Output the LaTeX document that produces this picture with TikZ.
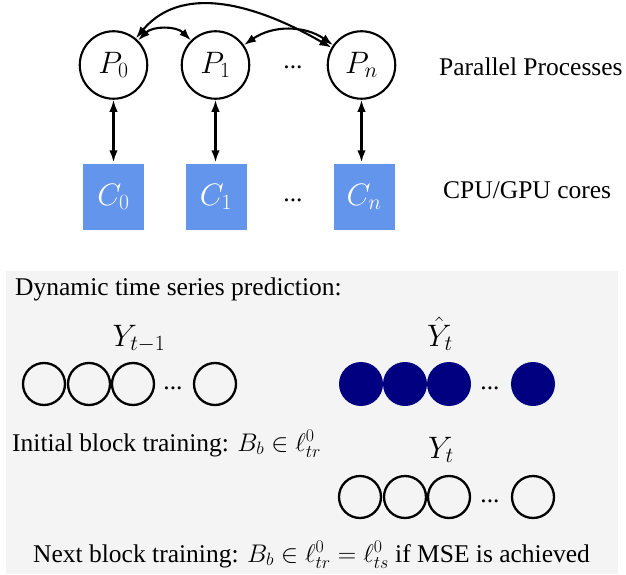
\RequirePackage{fix-cm}
\documentclass[tikz,border=0pt]{standalone}
\usepackage{fontspec}
\setmainfont{Liberation Serif}
\usetikzlibrary{arrows.meta}
\definecolor{cblue}{RGB}{100,149,237}
\definecolor{bggray}{RGB}{244,244,244}
\definecolor{navyc}{RGB}{0,0,128}
\begin{document}
\begin{tikzpicture}[x=1pt,y=1pt,
  font=\fontsize{25.5}{30}\selectfont,
  proc/.style={circle, draw, line width=2.1pt, minimum size=67.5pt, inner sep=0pt, font=\fontsize{31}{36}\selectfont},
  core/.style={rectangle, fill=cblue, minimum width=61pt, minimum height=66pt, inner sep=0pt, text=white, font=\fontsize{31}{36}\selectfont},
  link/.style={line width=2.1pt, {Latex[length=12pt,width=8.5pt]}-{Latex[length=12pt,width=8.5pt]}},
  cell/.style={circle, draw, line width=2.3pt, minimum size=42pt, inner sep=0pt},
  fcell/.style={circle, fill=navyc, minimum size=44pt, inner sep=0pt},
  lbl/.style={anchor=base west, inner sep=0pt},
  mlbl/.style={anchor=base, inner sep=0pt, font=\fontsize{31}{36}\selectfont},
  dotsn/.style={anchor=base, inner sep=0pt}]
\useasboundingbox (0,0) rectangle (626,574);
% background panel
\fill[bggray] (6,0) rectangle (618,303);

% processes
\node[proc] (P0) at (113.5,509) {$P_0$};
\node[proc] (P1) at (215.5,509) {$P_1$};
\node[proc] (Pn) at (361.5,509) {$P_n$};
\node[dotsn] (pd) at (293,505) {...};
% cores
\node[core] (C0) at (113.5,377) {$C_0$};
\node[core] (C1) at (216,377) {$C_1$};
\node[core] (Cn) at (364,377) {$C_n$};
\node[dotsn] (cd) at (293,373) {...};

\node[lbl] (lp) at (439,498) {Parallel Processes};
\node[lbl] (lc) at (443,376) {CPU/GPU cores};

% connectors
\draw[link] (P0.south) -- ([yshift=1.5pt]P0.south |- C0.north);
\draw[link] (P1.south) -- ([yshift=1.5pt]P1.south |- C1.north);
\draw[link] (Pn.south) -- ([yshift=1.5pt]Pn.south |- Cn.north);
\draw[link] (P0) to[bend left=45] (P1);
\draw[link] (P1) to[bend left=35] (Pn);
\draw[link] (P0) to[out=50,in=150] (Pn);

% lower panel
\node[lbl] (dyn) at (15,279) {Dynamic time series prediction:};
\node[mlbl] (yprev) at (139,228) {$Y_{t-1}$};
\node[mlbl] (yhat) at (440,228) {$\hat{Y}_t$};

\node[cell] (a1) at (44,190) {};
\node[cell] (a2) at (89,190) {};
\node[cell] (a3) at (133,190) {};
\node[dotsn] (ad) at (173,185) {...};
\node[cell] (a4) at (215,190) {};

\node[fcell] (b1) at (361,190) {};
\node[fcell] (b2) at (405,190) {};
\node[fcell] (b3) at (449,190) {};
\node[dotsn] (bd) at (490,185) {...};
\node[fcell] (b4) at (533,190) {};

\node[lbl] (init) at (12,123) {Initial block training: $B_b \in \ell^0_{tr}$};
\node[mlbl] (ycur) at (441,116) {$Y_t$};

\node[cell] (c1) at (360,77) {};
\node[cell] (c2) at (405,77) {};
\node[cell] (c3) at (449,77) {};
\node[dotsn] (cdd) at (490,72) {...};
\node[cell] (c4) at (533,77) {};

\node[lbl] (next) at (33,12) {Next block training: $B_b \in \ell^0_{tr} = \ell^0_{ts}$ if MSE is achieved};
\end{tikzpicture}
\end{document}
